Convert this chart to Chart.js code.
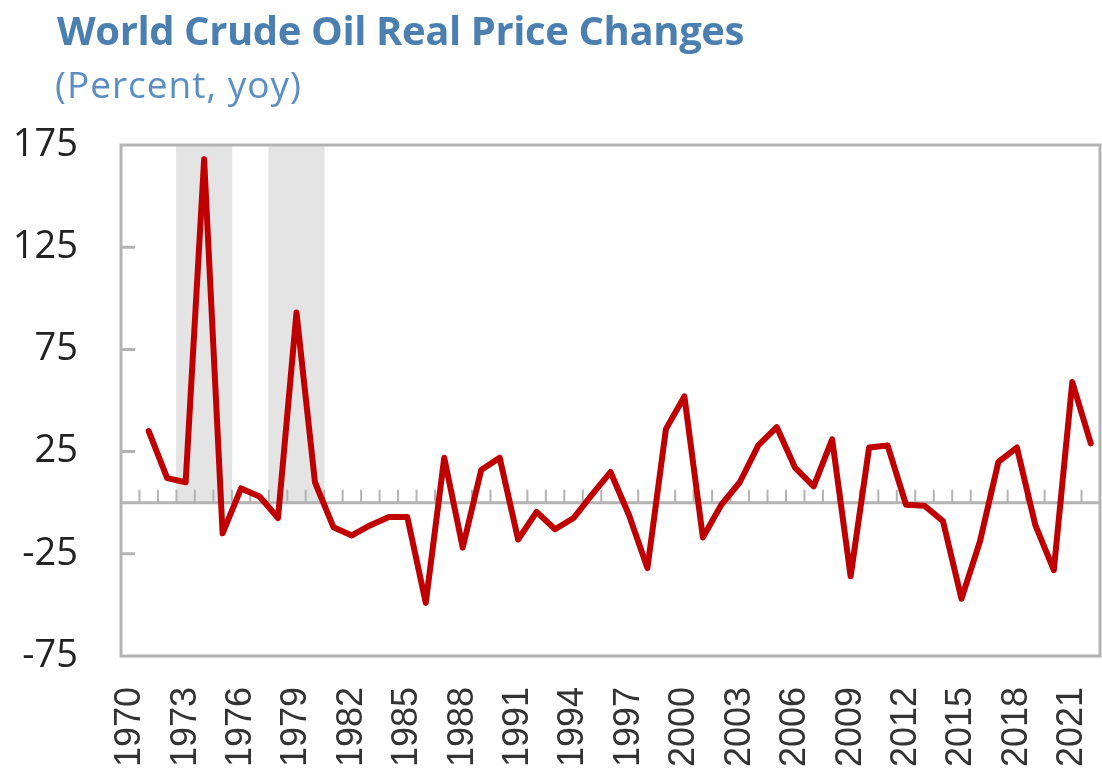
<!DOCTYPE html>
<html>
<head>
<meta charset="utf-8">
<script src="https://cdn.jsdelivr.net/npm/chart.js@4/dist/chart.umd.min.js"></script>
<style>
  body { margin: 0; background: #fff; overflow: hidden; }
  #wrap { position: relative; width: 1102px; height: 774px; }
  #title { position: absolute; left: 57px; top: 2px; font: bold 40px 'Open Sans', sans-serif; color: #4a7fb0; letter-spacing: -0.4px; white-space: nowrap; }
  #subtitle { position: absolute; left: 55px; top: 58px; font: 37px 'Open Sans', sans-serif; color: #5b8fc4; letter-spacing: 1px; white-space: nowrap; }
  canvas { position: absolute; left: 0; top: 0; }
</style>
</head>
<body>
<div id="wrap">
  <canvas id="chart" width="1102" height="774"></canvas>
  <div id="title">World Crude Oil Real Price Changes</div>
  <div id="subtitle">(Percent, yoy)</div>
</div>
<script>
// years on the category axis
const years = [];
for (let y = 1970; y <= 2022; y++) years.push(String(y));

// real price change, percent yoy (1970 has no value)
const priceChange = [
  null, 35, 12, 10, 168, -15, 7, 3, -7.5, 93,
  10, -12, -16, -11, -7, -7, -49, 22, -22, 16,
  22, -18, -4.5, -13, -7.5, 4, 15, -6, -32, 36,
  52, -17, -1, 10, 28, 37, 17, 8, 31, -36,
  27, 28, -1, -1.5, -9, -47, -19, 20, 27, -11,
  -33, 59, 29
];

// shaded oil-shock periods
const shadedYears = ['1973', '1974', '1975', '1978', '1979', '1980'];
const shadeTop = 175;

const xTickLabels = ['1970', '1973', '1976', '1979', '1982', '1985', '1988', '1991', '1994', '1997',
  '2000', '2003', '2006', '2009', '2012', '2015', '2018', '2021'];
const yTicks = [-75, -25, 25, 75, 125, 175];

const shadeData = years.map(y => shadedYears.includes(y) ? shadeTop : null);

const frameColor = '#b3b3b3';

// frame, zero line with small ticks, inner y ticks
const framePlugin = {
  id: 'frame',
  beforeDatasetDraw(chart, args) {
    if (args.index !== 0) return;
    const { ctx, chartArea: a, scales: { x, y } } = chart;
    const y0 = y.getPixelForValue(0);
    ctx.save();
    ctx.strokeStyle = frameColor;
    ctx.lineWidth = 3;
    ctx.beginPath();
    ctx.moveTo(a.left, y0);
    ctx.lineTo(a.right, y0);
    ctx.stroke();
    ctx.lineWidth = 2;
    ctx.beginPath();
    for (let i = 0; i < years.length - 1; i++) {
      const px = (x.getPixelForValue(i) + x.getPixelForValue(i + 1)) / 2;
      ctx.moveTo(px, y0);
      ctx.lineTo(px, y0 - 13);
    }
    ctx.stroke();
    ctx.restore();
  },
  afterDatasetsDraw(chart) {
    const { ctx, chartArea: a, scales: { y } } = chart;
    ctx.save();
    ctx.strokeStyle = frameColor;
    ctx.lineWidth = 3;
    ctx.strokeRect(a.left, a.top, a.right - a.left, a.bottom - a.top);
    ctx.beginPath();
    yTicks.slice(1, -1).forEach(v => {
      const py = y.getPixelForValue(v);
      ctx.moveTo(a.left, py);
      ctx.lineTo(a.left + 14, py);
    });
    ctx.stroke();
    ctx.restore();
  }
};

new Chart(document.getElementById('chart'), {
  data: {
    labels: years,
    datasets: [
      {
        type: 'line',
        data: priceChange,
        borderColor: '#c00000',
        borderWidth: 6,
        pointRadius: 0,
        tension: 0,
        borderJoinStyle: 'round',
        borderCapStyle: 'round',
        order: 0
      },
      {
        type: 'bar',
        data: shadeData,
        backgroundColor: '#e4e4e4',
        barPercentage: 1,
        categoryPercentage: 1,
        order: 1
      }
    ]
  },
  options: {
    responsive: false,
    animation: false,
    layout: { padding: { top: 145, right: 2, left: 0, bottom: 0 } },
    plugins: { legend: { display: false }, tooltip: { enabled: false } },
    scales: {
      x: {
        offset: true,
        grid: { display: false, drawTicks: false, tickLength: 0 },
        border: { display: false },
        afterFit: (s) => { s.height = 118; s.paddingLeft = 0; s.paddingRight = 0; },
        ticks: {
          autoSkip: false,
          maxRotation: 90,
          minRotation: 90,
          padding: 31,
          color: '#333',
          font: { family: "'Liberation Sans', Arial, sans-serif", size: 36 },
          callback: function (v) {
            const lab = this.getLabelForValue(v);
            return xTickLabels.includes(lab) ? lab : '';
          }
        }
      },
      y: {
        min: -75,
        max: 175,
        grid: { display: false, drawTicks: false, tickLength: 0 },
        border: { display: false },
        afterFit: (s) => { s.width = 121; s.paddingTop = 0; s.paddingBottom = 0; },
        afterBuildTicks: (s) => { s.ticks = yTicks.map(v => ({ value: v })); },
        ticks: {
          padding: 43,
          color: '#222',
          font: { family: "'Open Sans', sans-serif", size: 38 }
        }
      }
    }
  },
  plugins: [framePlugin]
});
</script>
</body>
</html>
